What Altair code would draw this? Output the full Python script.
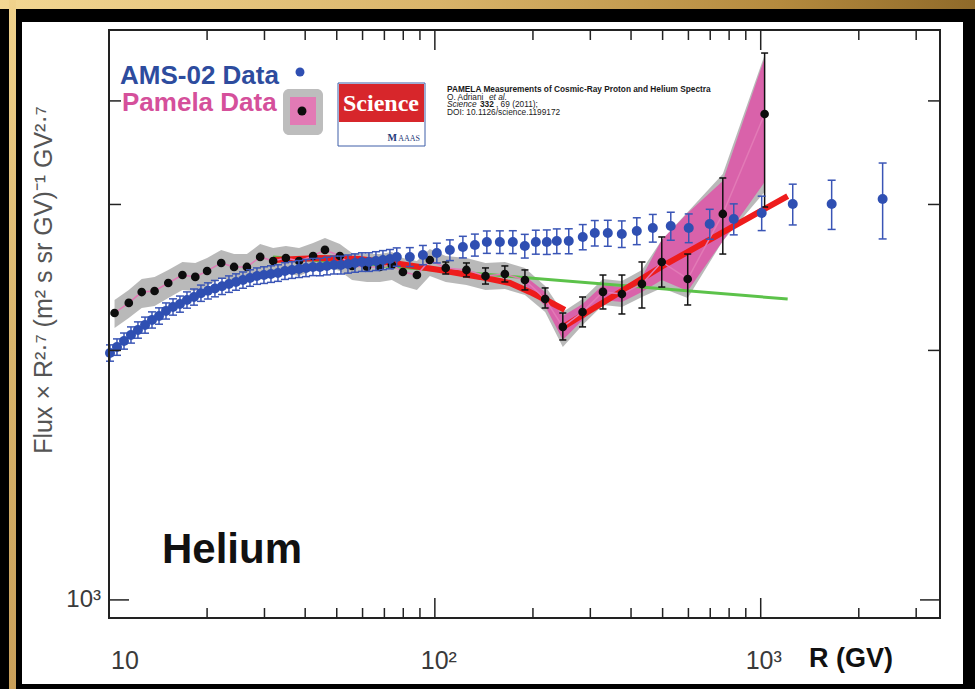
import altair as alt
import pandas as pd

# ---------------- data ----------------
# AMS-02 helium (rigidity GV, flux x R^2.7, symmetric error)
ams_R = [10.07, 10.58, 11.12, 11.68, 12.27, 12.90, 13.55, 14.24, 14.96, 15.72,
         16.51, 17.35, 18.23, 19.15, 20.12, 21.14, 22.22, 23.34, 24.53, 25.77,
         27.08, 28.45, 29.89, 31.41, 33.00, 34.67, 36.43, 38.28, 40.22, 42.26,
         44.40, 46.65, 49.02, 51.50, 54.11, 56.86, 59.74, 62.77, 65.95, 69.29,
         72.80,
         76.4, 83.8, 91.9, 101.4, 111.2, 121.9, 132.7, 144.4, 158.3, 173.5,
         188.8, 204.1, 220.6, 236.7, 257.6, 284.4, 309.6, 339.4, 374.7, 416.6,
         466.5, 529.7, 601.3, 697.5, 826.5, 1007, 1254, 1651, 2367]
ams_F = [1986, 2019, 2053, 2088, 2117, 2146, 2177, 2201, 2232, 2257,
         2275, 2301, 2320, 2345, 2360, 2375, 2390, 2405, 2419, 2432,
         2446, 2459, 2466, 2473, 2480, 2494, 2501, 2508, 2515, 2522,
         2522, 2529, 2536, 2536, 2543, 2550, 2557, 2557, 2564, 2571,
         2578,
         2593, 2593, 2607, 2622, 2643, 2666, 2681, 2703, 2703, 2703,
         2673, 2703, 2703, 2710, 2710, 2741, 2771, 2771, 2764, 2787,
         2810, 2826, 2810, 2842, 2881, 2930, 3004, 3004, 3046]
ams_err = [45, 46, 46, 47, 48, 48, 49, 50, 50, 51,
           51, 52, 52, 53, 53, 54, 54, 55, 55, 55,
           56, 56, 57, 57, 57, 58, 58, 59, 60, 60,
           61, 62, 63, 63, 64, 65, 66, 66, 67, 68,
           69,
           66, 68, 70, 72, 76, 80, 82, 84, 85, 86,
           88, 90, 92, 93, 94, 96, 98, 100, 102, 104,
           108, 110, 112, 118, 124, 140, 170, 205, 320]

# PAMELA helium
pam_R = [10.4, 11.5, 12.6, 13.8, 15.2, 16.8, 18.4, 20.0, 22.1, 24.2,
         26.5, 29.1, 31.9, 34.9, 38.3, 42.3, 46.0, 51.1, 55.7, 61.9,
         67.8, 73.8, 79.8, 88.1, 96.5, 108, 125, 143, 164, 189,
         218, 247, 284, 328, 375, 432, 497, 597, 765, 1028]
pam_F = [2219, 2282, 2352, 2359, 2412, 2466, 2453, 2494, 2550, 2522,
         2522, 2593, 2564, 2585, 2564, 2600, 2644, 2600, 2529, 2522,
         2522, 2536, 2487, 2466, 2571, 2515, 2501, 2459, 2473, 2432,
         2307, 2135, 2225, 2353, 2339, 2406, 2557, 2439, 2922, 3857]
# grey systematic band
band_hi = [2301, 2366, 2439, 2453, 2501, 2557, 2550, 2586, 2643, 2614,
           2614, 2688, 2658, 2673, 2658, 2696, 2733, 2688, 2622, 2614,
           2614, 2629, 2586, 2564, 2651, 2600, 2586, 2550, 2557, 2515,
           2392, 2225, 2307, 2439, 2425, 2501, 2718, 2938, 3265, 4543]
band_lo = [2129, 2189, 2250, 2263, 2314, 2366, 2359, 2392, 2446, 2419,
           2425, 2487, 2459, 2480, 2459, 2501, 2529, 2494, 2432, 2419,
           2419, 2432, 2392, 2366, 2459, 2419, 2398, 2366, 2372, 2333,
           2225, 2019, 2146, 2269, 2257, 2320, 2379, 2314, 2710, 3106]
# pink band (high rigidity)
pink_R = [189, 218, 247, 284, 328, 375, 432, 497, 597, 765, 1028]
pink_hi = [2459, 2353, 2201, 2275, 2398, 2385, 2453, 2718, 2930, 3202, 4506]
pink_lo = [2398, 2263, 2059, 2177, 2301, 2288, 2353, 2432, 2359, 2710, 3193]
# PAMELA statistical error bars
perr_R = [108, 125, 143, 164, 189, 218, 247, 284, 328, 375, 432, 497, 597, 765, 1028]
perr_lo = [2473, 2453, 2405, 2419, 2366, 2250, 2059, 2135, 2244, 2213, 2250, 2385, 2269, 2614, 2979]
perr_hi = [2557, 2550, 2515, 2529, 2501, 2379, 2219, 2320, 2466, 2466, 2557, 2741, 2614, 3229, 4569]

# fits
red_a_R = [31.9, 44.4, 58.9, 78.1, 103.6, 137.4, 169.9, 195.6, 225.3, 250.5]
red_a_F = [2571, 2586, 2578, 2543, 2501, 2453, 2412, 2353, 2288, 2238]
red_b_R = [250.5, 500.5, 1210]
red_b_F = [2140, 2529, 3071]
green_R = [31.9, 1210]
green_F = [2593, 2307]

# axes
x_minor = [20, 30, 40, 50, 60, 70, 80, 90, 200, 300, 400, 500, 600, 700, 800, 900, 2000, 3000]
x_major = [100, 1000]
x_labels_R = [10, 100, 1000]
x_labels = ["10", "10²", "10³"]
y_minor = [2000, 3000, 4000]
y_major = [1000]

# ---------------- chart ----------------
W, H = 831, 588
xs = alt.Scale(type="log", domain=[10, 3550], nice=False)
ys = alt.Scale(type="log", domain=[951, 4871], nice=False)
SANS = "Liberation Sans, Arial, sans-serif"
NARROW = "Liberation Sans Narrow, Liberation Sans, Arial, sans-serif"


def X(f="R"):
    return alt.X(f, type="quantitative", scale=xs, axis=None)


def Y(f):
    return alt.Y(f, type="quantitative", scale=ys, axis=None)


one = pd.DataFrame({"a": [0]})


def deco():
    return alt.Chart(one)


ams = pd.DataFrame({"R": ams_R, "F": ams_F, "err": ams_err})
ams["lo"] = ams["F"] - ams["err"]
ams["hi"] = ams["F"] + ams["err"]
pam = pd.DataFrame({"R": pam_R, "F": pam_F, "blo": band_lo, "bhi": band_hi})
pink = pd.DataFrame({"R": pink_R, "lo": pink_lo, "hi": pink_hi})
perr = pd.DataFrame({"R": perr_R, "lo": perr_lo, "hi": perr_hi})
red_a = pd.DataFrame({"R": red_a_R, "F": red_a_F})
red_b = pd.DataFrame({"R": red_b_R, "F": red_b_F})
green = pd.DataFrame({"R": green_R, "F": green_F})

gold_h = alt.Gradient(gradient="linear", x1=0, x2=1, y1=0, y2=0,
                      stops=[alt.GradientStop(color="#f3d793", offset=0),
                             alt.GradientStop(color="#d9b46a", offset=0.45),
                             alt.GradientStop(color="#b48a3e", offset=0.8),
                             alt.GradientStop(color="#8f6a2a", offset=1)])
gold_v = alt.Gradient(gradient="linear", x1=0, x2=0, y1=0, y2=1,
                      stops=[alt.GradientStop(color="#f0d28c", offset=0),
                             alt.GradientStop(color="#d8b46c", offset=0.5),
                             alt.GradientStop(color="#c9a05a", offset=1)])

layers = []
# frame decoration
layers.append(deco().mark_rect(fill=gold_h).encode(
    x=alt.value(-109), x2=alt.value(866), y=alt.value(-30), y2=alt.value(-21)))
layers.append(deco().mark_rect(fill=gold_v).encode(
    x=alt.value(-100), x2=alt.value(-93), y=alt.value(-30), y2=alt.value(659)))
layers.append(deco().mark_rect(fill="white").encode(
    x=alt.value(-87), x2=alt.value(854), y=alt.value(-8), y2=alt.value(654)))

# PAMELA bands
layers.append(alt.Chart(pam).mark_area(color="#b5b5b5", opacity=0.95).encode(
    x=X(), y=Y("blo"), y2="bhi"))
layers.append(alt.Chart(pink).mark_area(color="#da5fa9", opacity=0.97).encode(
    x=X(), y=Y("lo"), y2="hi"))
# fits
layers.append(alt.Chart(green).mark_line(color="#5cc24a", strokeWidth=3).encode(x=X(), y=Y("F")))
layers.append(alt.Chart(red_a).mark_line(color="#ee1c1c", strokeWidth=6).encode(x=X(), y=Y("F")))
layers.append(alt.Chart(red_b).mark_line(color="#ee1c1c", strokeWidth=6).encode(x=X(), y=Y("F")))
# PAMELA connector, errors, points
layers.append(alt.Chart(pam).mark_line(color="#e27ab6", strokeWidth=1.5).encode(x=X(), y=Y("F")))
layers.append(alt.Chart(perr).mark_rule(color="#111111", strokeWidth=1.5).encode(
    x=X(), y=Y("lo"), y2="hi"))
cap = "M -1 0 L 1 0"
for f in ["lo", "hi"]:
    layers.append(alt.Chart(perr).mark_point(shape=cap, size=49, filled=False,
                                             color="#111111", strokeWidth=1.5, opacity=1).encode(
        x=X(), y=Y(f)))
layers.append(alt.Chart(pam).mark_point(filled=True, color="#0d0d0d", size=75, opacity=1).encode(
    x=X(), y=Y("F")))
# AMS-02
layers.append(alt.Chart(ams).mark_rule(color="#3a55b6", strokeWidth=1.5).encode(
    x=X(), y=Y("lo"), y2="hi"))
for f in ["lo", "hi"]:
    layers.append(alt.Chart(ams).mark_point(shape=cap, size=64, filled=False,
                                            color="#3a55b6", strokeWidth=1.5, opacity=1).encode(
        x=X(), y=Y(f)))
layers.append(alt.Chart(ams).mark_point(filled=True, color="#2f4fb2", size=100, opacity=1).encode(
    x=X(), y=Y("F")))

# ticks (inward, all four sides)
tick_col = "#222222"
xmin_df = pd.DataFrame({"R": x_minor})
xmaj_df = pd.DataFrame({"R": x_major})
ymin_df = pd.DataFrame({"F": y_minor})
ymaj_df = pd.DataFrame({"F": y_major})
for df, ln in [(xmin_df, 10), (xmaj_df, 20)]:
    layers.append(alt.Chart(df).mark_rule(color=tick_col, strokeWidth=1.5).encode(
        x=X(), y=alt.value(H), y2=alt.value(H - ln)))
    layers.append(alt.Chart(df).mark_rule(color=tick_col, strokeWidth=1.5).encode(
        x=X(), y=alt.value(0), y2=alt.value(ln)))
for df, ln in [(ymin_df, 12), (ymaj_df, 20)]:
    layers.append(alt.Chart(df).mark_rule(color=tick_col, strokeWidth=1.5).encode(
        y=Y("F"), x=alt.value(0), x2=alt.value(ln)))
    layers.append(alt.Chart(df).mark_rule(color=tick_col, strokeWidth=1.5).encode(
        y=Y("F"), x=alt.value(W - ln), x2=alt.value(W)))
# plot frame
layers.append(deco().mark_rect(fill="transparent", stroke=tick_col, strokeWidth=2).encode(
    x=alt.value(0), x2=alt.value(W), y=alt.value(0), y2=alt.value(H)))

# tick labels (the first one sits right of the left edge, as in the original)
label_dx = [16, 4, 3]
for r, t, d in zip(x_labels_R, x_labels, label_dx):
    layers.append(alt.Chart(pd.DataFrame({"R": [r], "t": [t]})).mark_text(
        font=NARROW, fontSize=25, color="#3a3a3a", align="center", baseline="middle", dx=d).encode(
        x=X(), y=alt.value(631), text="t:N"))
layers.append(alt.Chart(ymaj_df).mark_text(font=NARROW, fontSize=24, color="#3a3a3a",
                                           align="right", baseline="middle", text="10³").encode(
    y=Y("F"), x=alt.value(-8)))
# axis titles
layers.append(deco().mark_text(text="Flux × R²·⁷ (m² s sr GV)⁻¹ GV²·⁷", angle=270, font=SANS,
                               fontSize=25, color="#555555", align="center", baseline="middle").encode(
    x=alt.value(-65), y=alt.value(250)))
layers.append(deco().mark_text(text="R (GV)", font=SANS, fontSize=27, fontWeight="bold",
                               color="#111111", align="left", baseline="alphabetic").encode(
    x=alt.value(700), y=alt.value(637)))
layers.append(deco().mark_text(text="Helium", font=SANS, fontSize=42, fontWeight="bold",
                               color="#111111", align="left", baseline="alphabetic").encode(
    x=alt.value(53), y=alt.value(533)))

# legend
layers.append(deco().mark_text(text="AMS-02 Data", font=SANS, fontSize=26, fontWeight="bold",
                               color="#2d4c9e", align="left", baseline="alphabetic").encode(
    x=alt.value(11), y=alt.value(54)))
layers.append(deco().mark_text(text="Pamela Data", font=SANS, fontSize=26, fontWeight="bold",
                               color="#d5509b", align="left", baseline="alphabetic").encode(
    x=alt.value(13), y=alt.value(81)))
layers.append(deco().mark_point(filled=True, color="#2f4fb2", size=80, opacity=1).encode(
    x=alt.value(191), y=alt.value(42)))
layers.append(deco().mark_rect(fill="#bdbdbd", cornerRadius=6).encode(
    x=alt.value(174), x2=alt.value(214), y=alt.value(59), y2=alt.value(105)))
layers.append(deco().mark_rect(fill="#e27ab5").encode(
    x=alt.value(181), x2=alt.value(207), y=alt.value(67), y2=alt.value(95)))
layers.append(deco().mark_point(filled=True, color="#0d0d0d", size=80, opacity=1).encode(
    x=alt.value(193), y=alt.value(81)))

# Science logo
layers.append(deco().mark_rect(fill="white", stroke="#3f5fa8", strokeWidth=1).encode(
    x=alt.value(229), x2=alt.value(316), y=alt.value(53), y2=alt.value(116)))
layers.append(deco().mark_rect(fill="#d7262b").encode(
    x=alt.value(230), x2=alt.value(315), y=alt.value(54), y2=alt.value(92)))
layers.append(deco().mark_text(text="Science", font="Liberation Serif, serif", fontSize=24,
                               fontWeight="bold", color="white", align="center",
                               baseline="alphabetic").encode(
    x=alt.value(272), y=alt.value(81)))
layers.append(deco().mark_text(text="AAAS", font="Liberation Serif, serif", fontSize=8,
                               color="#1f3a7a", align="right", baseline="alphabetic").encode(
    x=alt.value(311), y=alt.value(111)))
layers.append(deco().mark_text(text="M", font="Liberation Serif, serif", fontSize=10, fontWeight="bold",
                               color="#1f3a7a", align="right", baseline="alphabetic").encode(
    x=alt.value(288), y=alt.value(111)))

# citation
cite = [("PAMELA Measurements of Cosmic-Ray Proton and Helium Spectra", 338, 62, "bold", "normal"),
        ("O. Adriani ", 338, 69.5, "normal", "normal"),
        ("et al.", 380, 69.5, "normal", "italic"),
        ("Science", 338, 77, "normal", "italic"),
        ("332", 371, 77, "bold", "normal"),
        (", 69 (2011);", 387, 77, "normal", "normal"),
        ("DOI: 10.1126/science.1199172", 338, 84.5, "normal", "normal")]
for t, cx, cy, fw, fs in cite:
    layers.append(deco().mark_text(text=t, font=SANS, fontSize=8.3, fontWeight=fw, fontStyle=fs,
                                   color="#1a1a1a", align="left", baseline="alphabetic").encode(
        x=alt.value(cx), y=alt.value(cy)))

chart = alt.layer(*layers).properties(
    width=W, height=H,
    padding={"left": 109, "top": 30, "right": 35, "bottom": 71},
    autosize=alt.AutoSizeParams(type="none"),
).configure(background="#000000").configure_view(stroke=None)

chart.save("out.html", embed_options={"renderer": "svg", "actions": False})
